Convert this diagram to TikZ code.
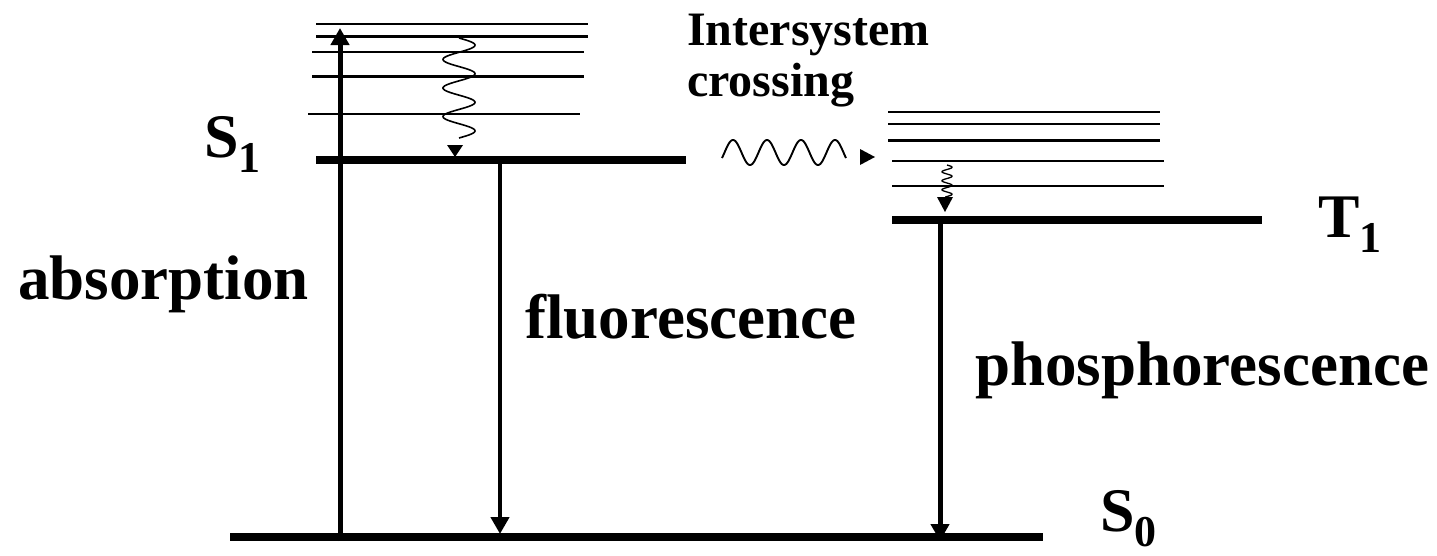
\documentclass[tikz,border=0pt]{standalone}
\usepackage{fontspec}
\setmainfont{Liberation Serif}
\usetikzlibrary{arrows.meta}
\newcommand\lvlsub[1]{\raisebox{-15pt}{\fontsize{44}{44}\selectfont #1}}
\begin{document}
\begin{tikzpicture}[x=1pt,y=-1pt,
  level/.style={line width=8pt},
  vib/.style={line width=2pt},
  vibthick/.style={line width=3pt},
  trans/.style={line width=5pt,-{Triangle[length=17pt,width=18pt]}},
  wavy/.style={line width=1.6pt},
  tipfill/.style={fill=black},
  biglabel/.style={font=\fontsize{63}{70}\selectfont\bfseries, anchor=base west, inner sep=0pt},
  statelabel/.style={font=\fontsize{62}{66}\selectfont\bfseries, anchor=base west, inner sep=0pt},
  isclabel/.style={font=\fontsize{48}{50}\selectfont\bfseries, anchor=base west, inner sep=0pt}
]
\useasboundingbox (0,0) rectangle (1437,555);

% levels
\coordinate (s0l) at (230,537); \coordinate (s0r) at (1043,537);
\coordinate (s1l) at (316,160); \coordinate (s1r) at (686,160);
\coordinate (t1l) at (892,220); \coordinate (t1r) at (1262,220);
\draw[level] (s0l) -- (s0r);
\draw[level] (s1l) -- (s1r);
\draw[level] (t1l) -- (t1r);

% S1 vibrational levels
\draw[vib] (316,24) -- (588,24);
\draw[vibthick] (316,36) -- (588,36);
\draw[vib] (312,52) -- (584,52);
\draw[vibthick] (312,76) -- (584,76);
\draw[vib] (308,114) -- (580,114);

% T1 vibrational levels
\draw[vib] (888,112) -- (1160,112);
\draw[vib] (888,124) -- (1160,124);
\draw[vibthick] (888,140) -- (1160,140);
\draw[vib] (892,161) -- (1164,161);
\draw[vib] (892,186) -- (1164,186);

% transitions
\coordinate (absA) at (340,541); \coordinate (absB) at (340,28);
\coordinate (flA) at (500,156); \coordinate (flB) at (500,534);
\coordinate (phA) at (940,216); \coordinate (phB) at (940,541);
\draw[trans] (absA) -- (absB);
\draw[trans,line width=4.5pt] (flA) -- (flB);
\draw[trans] (phA) -- (phB);

% internal conversion in S1
\draw[wavy] plot[domain=0:100,samples=160,smooth] ({459+16*sin(\x*12.6)},{38+\x});
\fill[tipfill] (447,145) -- (463,145) -- (455,157) -- cycle;

% intersystem crossing wave
\draw[wavy,line width=1.9pt] plot[domain=722:846,samples=200,smooth] (\x,{152.5-12.5*cos((\x-733)*10.588)});
\fill[tipfill] (860,149) -- (860,165) -- (875,157) -- cycle;

% relaxation in T1
\draw[wavy,line width=1.3pt] plot[domain=0:32,samples=120,smooth] ({947+5*sin(\x*40)},{165+\x});
\fill[tipfill] (937,197) -- (953,197) -- (945,212) -- cycle;

% labels
\node[statelabel] (lS1) at (204,157) {S\lvlsub{1}};
\node[statelabel] (lT1) at (1318,237) {T\lvlsub{1}};
\node[statelabel] (lS0) at (1100,531) {S\lvlsub{0}};
\node[biglabel] (labs) at (18,299) {absorption};
\node[biglabel] (lfl) at (525,338) {fluorescence};
\node[biglabel] (lph) at (975,385) {phosphorescence};
\node[isclabel] (lisc1) at (687,45) {Intersystem};
\node[isclabel] (lisc2) at (687,96) {crossing};
\end{tikzpicture}
\end{document}
